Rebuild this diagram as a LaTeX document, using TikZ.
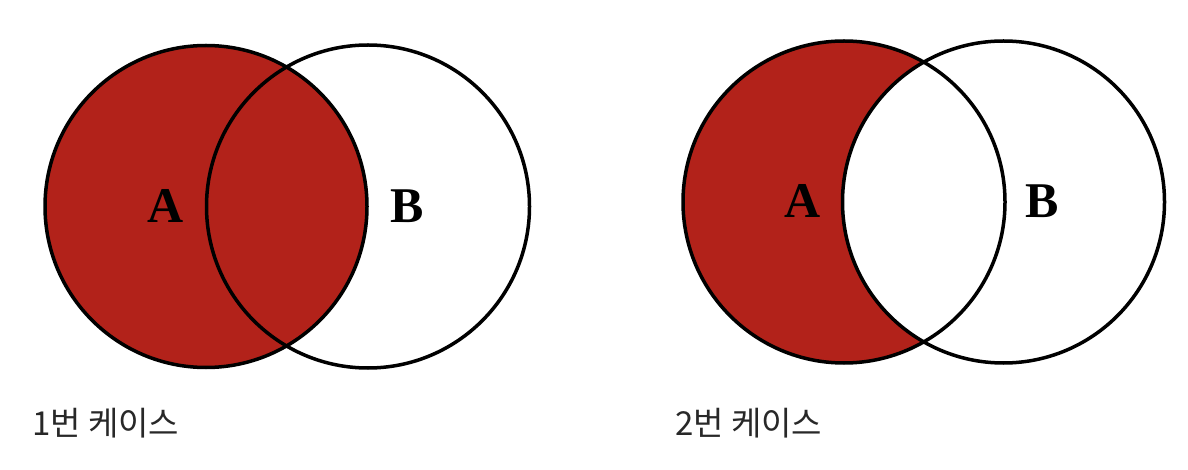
\documentclass[tikz,border=0pt]{standalone}
\usepackage{fontspec}
\setmainfont{Liberation Serif}
\newfontfamily\krfont{Noto Sans CJK KR}
\definecolor{vennred}{RGB}{178,34,26}
\definecolor{captxt}{RGB}{40,40,40}
\begin{document}
\begin{tikzpicture}[x=1pt,y=-1pt,
  ring/.style={draw=black,line width=3.5pt},
  setlabel/.style={font=\fontsize{50}{50}\selectfont\bfseries,text=black,inner sep=0pt},
  caption/.style={font=\krfont\fontsize{33}{33}\selectfont,text=captxt,anchor=west,inner sep=0pt}]
\useasboundingbox[fill=white] (0,0) rectangle (1188,470);
% case 1
\coordinate (a1) at (206,206.5);
\coordinate (b1) at (368,206.5);
\fill[vennred] (a1) circle[radius=161];
\draw[ring] (a1) circle[radius=161];
\draw[ring] (b1) circle[radius=161.5];
\node[setlabel] (la1) at (166,206) {A};
\node[setlabel] (lb1) at (407.5,206) {B};
\node[caption] (c1) at (32,423) {1번 케이스};
% case 2
\coordinate (a2) at (844,202);
\coordinate (b2) at (1003.5,202);
\fill[vennred] (a2) circle[radius=161];
\fill[white] (b2) circle[radius=161];
\draw[ring] (a2) circle[radius=161];
\draw[ring] (b2) circle[radius=161];
\node[setlabel] (la2) at (803,201) {A};
\node[setlabel] (lb2) at (1042,201) {B};
\node[caption] (c2) at (675,423) {2번 케이스};
\end{tikzpicture}
\end{document}
